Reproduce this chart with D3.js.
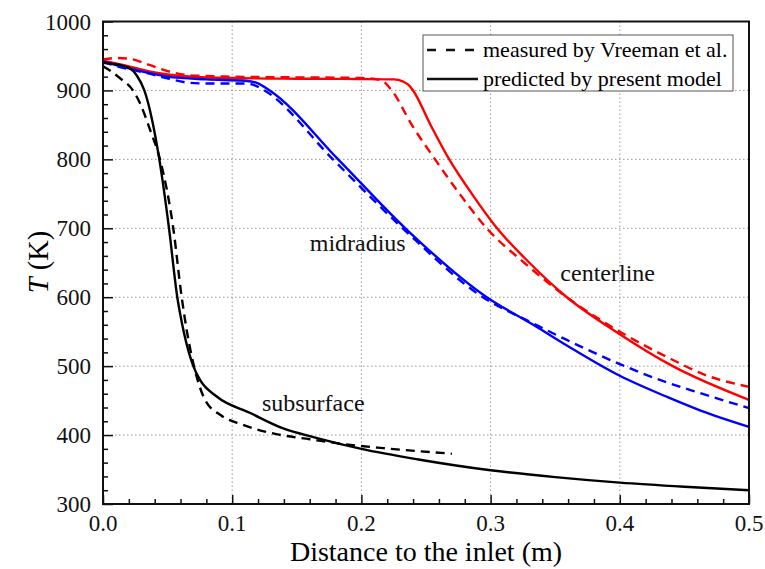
<!DOCTYPE html>
<html lang="en">
<head>
  <meta charset="UTF-8" />
  <title>Temperature along the billet</title>
  <style>
    body {
      margin: 0;
      background: #fff;
    }
    svg {
      display: block;
      font-family: "Liberation Serif", "DejaVu Serif", serif;
    }
    .grid line {
      stroke: #999;
      stroke-width: 1;
      stroke-dasharray: 1.5, 2.5;
    }
    .tick-label { font-size: 23px; fill: #111; }
    .curve { fill: none; stroke-width: 2.4; }
    .dashed { stroke-dasharray: 9, 6; }
    .note { font-size: 24px; fill: #111; }
  </style>
</head>
<body>
  <svg width="765" height="569"></svg>

  <script src="https://cdnjs.cloudflare.com/ajax/libs/d3/7.8.5/d3.min.js"></script>
  <script>
    // values: [distance (m), T (K)]
    const centerlinePredicted = [
      [0, 943], [0.02, 935], [0.04, 926], [0.06, 921], [0.1, 918], [0.15, 917],
      [0.2, 916.5], [0.225, 916], [0.232, 913], [0.2365, 908], [0.240, 900],
      [0.2535, 850], [0.268, 800], [0.2855, 750], [0.305, 700], [0.33, 650],
      [0.359, 600], [0.397, 550], [0.441, 500], [0.5, 451]
    ];
    const centerlineMeasured = [
      [0, 945], [0.01, 947], [0.02, 946], [0.036, 937], [0.052, 927], [0.067, 922],
      [0.1, 920], [0.15, 919], [0.2, 918], [0.215, 915], [0.2235, 900],
      [0.239, 850], [0.257, 800], [0.276, 750], [0.297, 700], [0.326, 650],
      [0.359, 600], [0.4, 550], [0.44, 510], [0.465, 488], [0.5, 470]
    ];
    const midradiusPredicted = [
      [0, 942], [0.02, 932], [0.05, 920], [0.08, 916], [0.11, 914], [0.119, 911],
      [0.129, 900], [0.182, 800], [0.234, 700], [0.297, 600], [0.333, 560],
      [0.359, 530], [0.4, 486], [0.437, 455], [0.462, 436], [0.5, 412]
    ];
    const midradiusMeasured = [
      [0, 941], [0.013, 934], [0.034, 925], [0.049, 918], [0.067, 911], [0.08, 910],
      [0.111, 910], [0.118, 907], [0.125, 900], [0.178, 800], [0.232, 700],
      [0.294, 600], [0.333, 562], [0.359, 538], [0.4, 503], [0.437, 476],
      [0.462, 461], [0.5, 439]
    ];
    const subsurfacePredicted = [
      [0, 940], [0.01, 938], [0.02, 933], [0.026, 922], [0.032, 900],
      [0.0436, 800], [0.0511, 700], [0.0575, 600], [0.0596, 577], [0.0627, 548],
      [0.0699, 500], [0.0751, 480], [0.088, 456], [0.114, 432], [0.139, 410],
      [0.165, 396], [0.20, 380], [0.243, 365], [0.3, 349], [0.35, 339],
      [0.4, 331], [0.45, 325], [0.5, 320]
    ];
    const subsurfaceMeasured = [
      [0, 935], [0.006, 928], [0.013, 918], [0.0232, 900], [0.029, 880],
      [0.0364, 843], [0.0441, 800], [0.0544, 700], [0.0609, 600], [0.065, 550],
      [0.0704, 500], [0.079, 451], [0.091, 429], [0.108, 415], [0.135, 401],
      [0.16, 394], [0.186, 387], [0.217, 381], [0.27, 373]
    ];

    const xTicks = [0, 0.1, 0.2, 0.3, 0.4, 0.5];
    const yTicks = [300, 400, 500, 600, 700, 800, 900, 1000];
    const legendLabels = ["measured by Vreeman et al.", "predicted by present model"];

    const series = [
      { data: centerlinePredicted, color: "#ff0000", dashed: false },
      { data: centerlineMeasured, color: "#ff0000", dashed: true },
      { data: midradiusPredicted, color: "#0000ff", dashed: false },
      { data: midradiusMeasured, color: "#0000ff", dashed: true },
      { data: subsurfacePredicted, color: "#000000", dashed: false },
      { data: subsurfaceMeasured, color: "#000000", dashed: true }
    ];

    const plotLeft = 103, plotRight = 749, plotTop = 21.5, plotBottom = 504;

    const svg = d3.select("svg");

    const x = d3.scaleLinear().domain([0, 0.5]).range([plotLeft, plotRight]);
    const y = d3.scaleLinear().domain([300, 1000]).range([plotBottom, plotTop]);

    // dotted grid at the major ticks
    const grid = svg.append("g").attr("class", "grid");
    grid.selectAll(".gx")
      .data(xTicks.slice(1, -1))
      .join("line")
      .attr("class", "gx")
      .attr("x1", d => x(d)).attr("x2", d => x(d))
      .attr("y1", plotTop).attr("y2", plotBottom);
    grid.selectAll(".gy")
      .data(yTicks.slice(1, -1))
      .join("line")
      .attr("class", "gy")
      .attr("x1", plotLeft).attr("x2", plotRight)
      .attr("y1", d => y(d)).attr("y2", d => y(d));

    // curves
    const line = d3.line()
      .x(d => x(d[0]))
      .y(d => y(d[1]))
      .curve(d3.curveMonotoneX);

    svg.append("g").selectAll("path")
      .data(series)
      .join("path")
      .attr("class", d => d.dashed ? "curve dashed" : "curve")
      .attr("stroke", d => d.color)
      .attr("d", d => line(d.data));

    // inward ticks on bottom and left
    const xAxis = d3.axisBottom(x)
      .tickValues(d3.range(0, 0.5001, 0.02))
      .tickSize(-5)
      .tickFormat("");
    svg.append("g")
      .attr("transform", `translate(0,${plotBottom})`)
      .call(xAxis)
      .call(g => g.select(".domain").remove())
      .call(g => g.selectAll(".tick line")
        .attr("stroke", "#111").attr("stroke-width", 1.5)
        .attr("y2", d => Math.abs(d * 10 - Math.round(d * 10)) < 1e-6 ? -9 : -5));

    const yAxis = d3.axisLeft(y)
      .tickValues(d3.range(300, 1000.1, 20))
      .tickSize(-5)
      .tickFormat("");
    svg.append("g")
      .attr("transform", `translate(${plotLeft},0)`)
      .call(yAxis)
      .call(g => g.select(".domain").remove())
      .call(g => g.selectAll(".tick line")
        .attr("stroke", "#111").attr("stroke-width", 1.5)
        .attr("x2", d => d % 100 === 0 ? 10 : 5));

    // frame
    svg.append("rect")
      .attr("x", plotLeft).attr("y", plotTop)
      .attr("width", plotRight - plotLeft).attr("height", plotBottom - plotTop)
      .attr("fill", "none")
      .attr("stroke", "#111")
      .attr("stroke-width", 2);

    // tick labels
    svg.append("g").selectAll("text")
      .data(xTicks)
      .join("text")
      .attr("class", "tick-label")
      .attr("x", d => x(d))
      .attr("y", 531)
      .attr("text-anchor", "middle")
      .text(d3.format(".1f"));

    svg.append("g").selectAll("text")
      .data(yTicks)
      .join("text")
      .attr("class", "tick-label")
      .attr("x", 91)
      .attr("y", d => y(d))
      .attr("dy", "0.35em")
      .attr("text-anchor", "end")
      .text(d => d);

    // axis titles
    svg.append("text")
      .attr("x", 426)
      .attr("y", 561)
      .attr("text-anchor", "middle")
      .style("font-size", "28px")
      .text("Distance to the inlet (m)");

    const yTitle = svg.append("text")
      .attr("transform", "translate(48,262) rotate(-90)")
      .attr("text-anchor", "middle")
      .style("font-size", "28.5px");
    yTitle.append("tspan").style("font-style", "italic").text("T");
    yTitle.append("tspan").text(" (K)");

    // curve notes
    const notes = [
      { text: "midradius", at: [0.160, 667] },
      { text: "subsurface", at: [0.123, 435] },
      { text: "centerline", at: [0.354, 624] }
    ];
    svg.append("g").selectAll("text")
      .data(notes)
      .join("text")
      .attr("class", "note")
      .attr("x", d => x(d.at[0]))
      .attr("y", d => y(d.at[1]))
      .text(d => d.text);

    // legend
    const legend = svg.append("g").attr("transform", "translate(423,35)");
    legend.append("rect")
      .attr("width", 310).attr("height", 56)
      .attr("fill", "#fff")
      .attr("stroke", "#555")
      .attr("stroke-width", 1);
    const rows = legend.selectAll(".row")
      .data(legendLabels)
      .join("g")
      .attr("class", "row")
      .attr("transform", (d, i) => `translate(0,${15 + i * 29})`);
    rows.append("line")
      .attr("x1", 4).attr("x2", 55)
      .attr("stroke", "#111")
      .attr("stroke-width", 2.4)
      .attr("stroke-dasharray", (d, i) => i === 0 ? "9,10" : null);
    rows.append("text")
      .attr("x", 60)
      .attr("dy", "0.33em")
      .style("font-size", "22px")
      .text(d => d);
  </script>
</body>
</html>
